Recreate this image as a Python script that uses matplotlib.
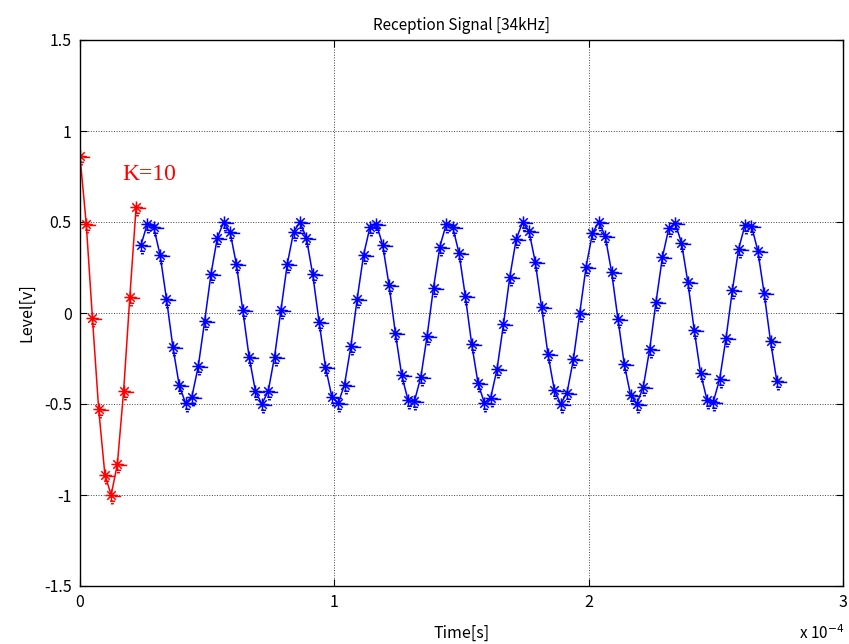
import matplotlib
matplotlib.use("Agg")
import matplotlib.pyplot as plt
from matplotlib.path import Path
from matplotlib.ticker import FixedLocator, FuncFormatter

# ---- data ----
dt = 2.5e-6
red_t0 = 0.0
blue_t0 = 2.40e-5
red_vals = [0.86, 0.49, -0.03, -0.53, -0.89, -1.00, -0.83, -0.43, 0.09, 0.58]
blue_vals = [
    0.375, 0.491, 0.470, 0.318, 0.077, -0.185, -0.396, -0.496, -0.459, -0.293,
    -0.046, 0.214, 0.414, 0.499, 0.445, 0.267, 0.015, -0.242, -0.431, -0.500,
    -0.430, -0.240, 0.016, 0.269, 0.446, 0.499, 0.413, 0.212, -0.048, -0.295,
    -0.459, -0.496, -0.394, -0.183, 0.079, 0.319, 0.471, 0.491, 0.374, 0.154,
    -0.110, -0.343, -0.480, -0.484, -0.353, -0.124, 0.140, 0.365, 0.488, 0.475,
    0.330, 0.093, -0.170, -0.386, -0.494, -0.465, -0.306, -0.062, 0.199, 0.405,
    0.498, 0.452, 0.280, 0.031, -0.228, -0.423, -0.500, -0.438, -0.254, 0.001,
    0.255, 0.439, 0.500, 0.422, 0.226, -0.032, -0.282, -0.453, -0.498, -0.404,
    -0.198, 0.063, 0.307, 0.465, 0.494, 0.385, 0.169, -0.094, -0.331, -0.476,
    -0.488, -0.364, -0.139, 0.125, 0.354, 0.485, 0.480, 0.342, 0.108, -0.155,
    -0.376,
]
red_t = [red_t0 + i * 2.45e-6 for i in range(len(red_vals))]
blue_t = [blue_t0 + i * dt for i in range(len(blue_vals))]

xticks = [0, 1e-4, 2e-4, 3e-4]
yticks = [-1.5, -1, -0.5, 0, 0.5, 1, 1.5]
ytick_labels = ["-1.5", "-1", "-0.5", "0", "0.5", "1", "1.5"]

title = "Reception Signal [34kHz]"
xlabel = "Time[s]"
ylabel = "Level[v]"
annot = "K=10"

# ---- marker: MATLAB-like asterisk with low-res artifacts ----
segs = [((-1, 0), (1, 0)), ((0, -1), (0, 1)),
        ((-0.7, -0.7), (0.7, 0.7)), ((-0.7, 0.7), (0.7, -0.7)),
        ((0.5, -0.15), (1.6, -0.15)), ((-0.2, -0.95), (0.6, -0.95)),
        ((-0.1, -1.35), (0.4, -1.35))]
verts, codes = [], []
for a, b in segs:
    verts += [a, b]
    codes += [Path.MOVETO, Path.LINETO]
ast = Path(verts, codes)

plt.rcParams['font.family'] = ['Noto Sans CJK JP', 'DejaVu Sans']

fig = plt.figure(figsize=(8.49, 6.44), dpi=100)
ax = fig.add_axes([80 / 849, (644 - 586) / 644, 763 / 849, 546 / 644])

ax.plot(red_t, red_vals, color=(1, 0, 0), lw=1.1, marker=ast, ms=14, mew=1.1)
ax.plot(blue_t, blue_vals, color=(0, 0, 1), lw=1.1, marker=ast, ms=14, mew=1.1)

ax.set_xlim(0, 3e-4)
ax.set_ylim(-1.5, 1.5)
ax.xaxis.set_major_locator(FixedLocator(xticks))
ax.xaxis.set_major_formatter(FuncFormatter(lambda v, p: "%g" % round(v / 1e-4, 6)))
ax.set_yticks(yticks)
ax.set_yticklabels(ytick_labels)
ax.tick_params(direction='in', top=True, right=True, length=5, width=0.8,
               labelsize=11.5, pad=6)
ax.grid(True, color='#444444', linestyle=':', linewidth=0.7)
for s in ax.spines.values():
    s.set_linewidth(1.0)

ax.set_title(title, fontsize=11, pad=7)
ax.set_xlabel(xlabel, fontsize=11.5, labelpad=10)
ax.set_ylabel(ylabel, fontsize=11.5, labelpad=6)

ax.text(1.65e-5, 0.76, annot, color=(1, 0, 0), fontsize=17,
        family='Liberation Serif', va='center', ha='left')
fig.text(822 / 849, 1 - 634 / 644, r"x 10$^{-4}$", fontsize=11,
         ha='center', va='center')

fig.savefig("out.png", dpi=100)
